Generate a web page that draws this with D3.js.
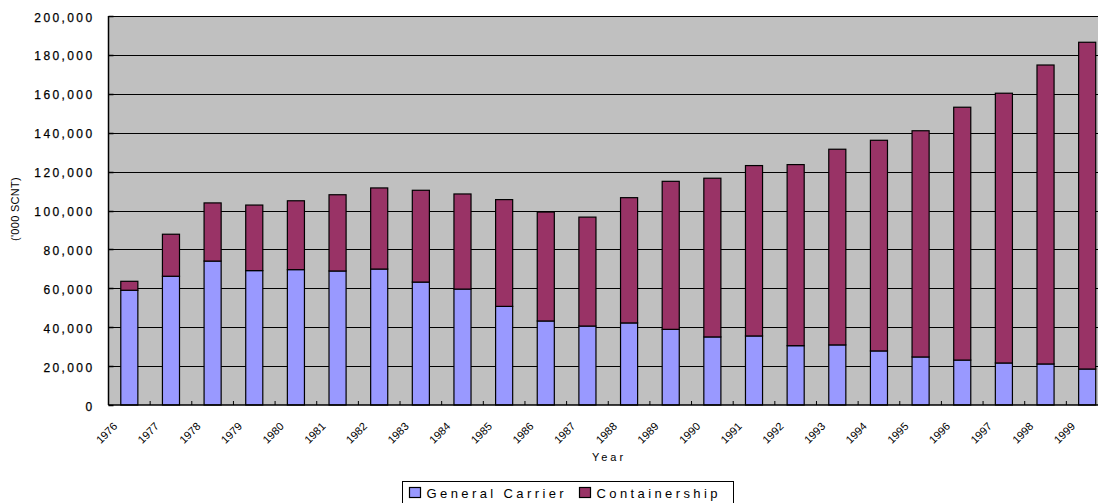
<!DOCTYPE html>
<html>
<head>
<meta charset="utf-8">
<script src="https://cdn.jsdelivr.net/npm/d3@7"></script>
<style>
  html, body { margin: 0; padding: 0; background: #fff; overflow: hidden; }
  svg { display: block; font-family: "Liberation Sans", Arial, sans-serif; }
</style>
</head>
<body>
<svg id="chart" width="1098" height="503"></svg>
<script>
const years = ["1976","1977","1978","1979","1980","1981","1982","1983","1984","1985","1986","1987","1988","1989","1990","1991","1992","1993","1994","1995","1996","1997","1998","1999"];
const generalCarrier = [59000,66200,74000,69100,69600,68900,69900,63200,59600,50700,43200,40600,42200,38900,35000,35500,30500,30900,27800,24700,23100,21600,21100,18500];
const containership = [4600,21600,29900,33700,35400,39200,41700,47200,48900,54900,56000,56000,64400,76100,81600,87600,93100,100600,108300,116300,130000,138700,153700,168000];
const seriesNames = ["General Carrier","Containership"];
const seriesColors = ["#9999FF","#993366"];
const yTicks = [0,20000,40000,60000,80000,100000,120000,140000,160000,180000,200000];

const svg = d3.select("#chart");
const pLeft = 108.5, pRight = 1108, pTop = 16, pBottom = 405;

const x = d3.scaleBand().domain(years).range([pLeft, pRight]).paddingInner(0.59).paddingOuter(0.295);
const y = d3.scaleLinear().domain([0, 200000]).range([pBottom, pTop]);

// plot background
svg.append("rect").attr("x", pLeft).attr("y", pTop).attr("width", pRight - pLeft).attr("height", pBottom - pTop).attr("fill", "#C0C0C0");

// gridlines
svg.append("g").selectAll("line").data(yTicks.filter(d => d > 0)).join("line")
  .attr("x1", pLeft).attr("x2", pRight)
  .attr("y1", d => Math.round(y(d)) + 0.5).attr("y2", d => Math.round(y(d)) + 0.5)
  .attr("stroke", "#000").attr("stroke-width", 1);

// stacked data
const rows = years.map((yr, i) => ({year: yr, gc: generalCarrier[i], cs: containership[i]}));
const stack = d3.stack().keys(["gc","cs"])(rows);

svg.append("g").selectAll("g").data(stack).join("g")
  .attr("fill", (d, i) => seriesColors[i])
  .selectAll("rect").data(d => d).join("rect")
  .attr("x", d => x(d.data.year))
  .attr("width", x.bandwidth())
  .attr("y", d => y(d[1]))
  .attr("height", d => y(d[0]) - y(d[1]))
  .attr("stroke", "#000").attr("stroke-width", 1.2);

// axes lines
svg.append("line").attr("x1", pLeft).attr("x2", pLeft).attr("y1", pTop).attr("y2", pBottom).attr("stroke", "#000").attr("stroke-width", 1.5);
svg.append("line").attr("x1", pLeft).attr("x2", pRight).attr("y1", pBottom).attr("y2", pBottom).attr("stroke", "#000").attr("stroke-width", 1.5);

// y ticks (inside)
svg.append("g").selectAll("line").data(yTicks).join("line")
  .attr("x1", pLeft).attr("x2", pLeft + 5)
  .attr("y1", d => Math.round(y(d)) + 0.5).attr("y2", d => Math.round(y(d)) + 0.5)
  .attr("stroke", "#000").attr("stroke-width", 1.5);

// y tick labels
const fmt = d3.format(",");
svg.append("g").selectAll("text").data(yTicks).join("text")
  .attr("x", 94.5)
  .attr("y", d => y(d) + 5.5)
  .attr("text-anchor", "end")
  .attr("font-size", 12)
  .attr("letter-spacing", 2.4)
  .attr("fill", "#000")
  .attr("stroke", "#000").attr("stroke-width", 0.25)
  .text(d => fmt(d));

// x ticks at category boundaries (inside, pointing up)
const step = x.step();
const boundaries = years.map(yr => x(yr) - (step - x.bandwidth()) / 2);
svg.append("g").selectAll("line").data(boundaries.slice(1)).join("line")
  .attr("x1", d => d).attr("x2", d => d)
  .attr("y1", pBottom).attr("y2", pBottom - 4)
  .attr("stroke", "#000").attr("stroke-width", 1);

// x tick labels at boundaries, rotated
svg.append("g").selectAll("text").data(years).join("text")
  .attr("transform", (d, i) => `translate(${boundaries[i] + 9.5},427) rotate(-45)`)
  .attr("text-anchor", "end")
  .attr("font-size", 11)
  .attr("fill", "#000")
  .text(d => d);

// axis titles
svg.append("text")
  .attr("transform", "translate(19,209) rotate(-90)")
  .attr("text-anchor", "middle")
  .attr("font-size", 11)
  .attr("letter-spacing", 0.3)
  .attr("fill", "#000")
  .text("('000 SCNT)");

svg.append("text")
  .attr("x", 609).attr("y", 461)
  .attr("text-anchor", "middle")
  .attr("font-size", 11)
  .attr("letter-spacing", 3)
  .attr("fill", "#000")
  .text("Year");

// legend
const lg = svg.append("g");
lg.append("rect").attr("x", 402.5).attr("y", 481.5).attr("width", 331).attr("height", 30)
  .attr("fill", "#fff").attr("stroke", "#000").attr("stroke-width", 1);
const legendX = [409.5, 579.5];
seriesNames.forEach((name, i) => {
  lg.append("rect").attr("x", legendX[i]).attr("y", 487.5).attr("width", 11).attr("height", 10)
    .attr("fill", seriesColors[i]).attr("stroke", "#000").attr("stroke-width", 1.2);
  lg.append("text").attr("x", legendX[i] + 17).attr("y", 497.5)
    .attr("font-size", 13).attr("letter-spacing", 3.4).attr("fill", "#000")
    .text(name);
});
</script>
</body>
</html>
